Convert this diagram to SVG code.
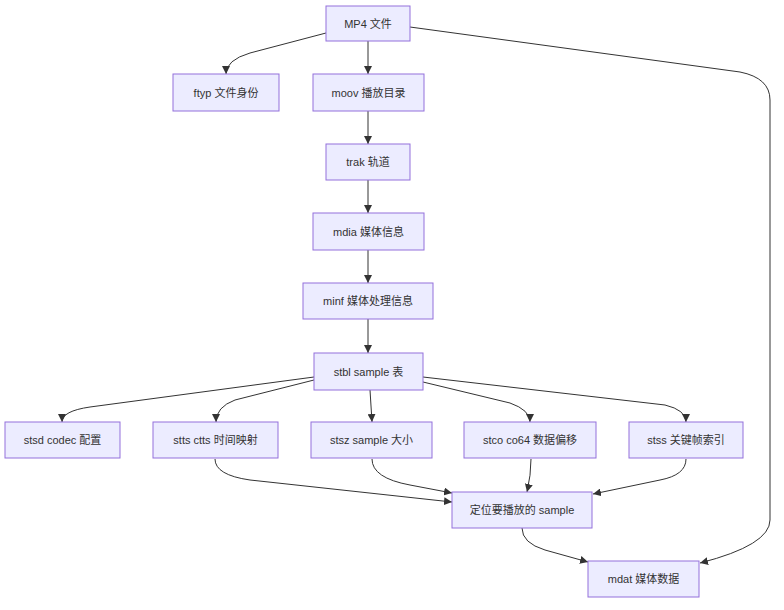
<svg xmlns="http://www.w3.org/2000/svg" width="784" height="610" viewBox="0 0 784 610">
<defs>
<marker id="arr" viewBox="0 0 10 10" refX="10" refY="5" markerWidth="8" markerHeight="8" markerUnits="userSpaceOnUse" orient="auto">
<path d="M0,0 L10,5 L0,10 z" fill="#333333"/>
</marker>
<style>
.node rect{fill:#ECECFF;stroke:#9370DB;stroke-width:1}
.node text{font-family:"Liberation Sans","Noto Sans CJK SC",sans-serif;font-size:11px;fill:#333333;text-anchor:middle;dominant-baseline:central}
.edges path{fill:none;stroke:#333333;stroke-width:1;marker-end:url(#arr)}
</style>
</defs>
<rect width="784" height="610" fill="#ffffff"/>
<g class="edges">
<path d="M326,33 L250,53 Q226,60 226,74"/>
<path d="M368,41 L368,74"/>
<path d="M410,27 L740,72 Q770,78 770,100 L770,520 Q770,545 700,563"/>
<path d="M368,111 L368,144"/>
<path d="M368,180 L368,213"/>
<path d="M368,250 L368,283"/>
<path d="M368,319 L368,353"/>
<path d="M314,377 L90,407 Q62,411 62,422"/>
<path d="M314,380 L235,400 Q216,407 216,422"/>
<path d="M370,390 L372,422"/>
<path d="M423,382 L510,403 Q530,410 530,422"/>
<path d="M423,377 L665,405 Q686,410 686,422"/>
<path d="M215,459 Q215,475 250,480 L452,502"/>
<path d="M372,459 Q372,478 410,485 L452,493"/>
<path d="M531,459 Q531,475 527,492"/>
<path d="M686,459 Q686,475 660,480 L593,494"/>
<path d="M522,528 Q522,543 545,550 L588,562"/>
</g>
<g id="mp4" class="node"><rect x="326" y="6" width="84" height="35"/><text x="368" y="23.5">MP4 文件</text></g>
<g id="ftyp" class="node"><rect x="173" y="74" width="106" height="37"/><text x="226" y="92.5">ftyp 文件身份</text></g>
<g id="moov" class="node"><rect x="313" y="74" width="111" height="37"/><text x="368.5" y="92.5">moov 播放目录</text></g>
<g id="trak" class="node"><rect x="326" y="144" width="84" height="36"/><text x="368" y="162">trak 轨道</text></g>
<g id="mdia" class="node"><rect x="313" y="213" width="111" height="37"/><text x="368.5" y="231.5">mdia 媒体信息</text></g>
<g id="minf" class="node"><rect x="303" y="283" width="130" height="36"/><text x="368" y="301">minf 媒体处理信息</text></g>
<g id="stbl" class="node"><rect x="314" y="353" width="109" height="37"/><text x="368.5" y="371.5">stbl sample 表</text></g>
<g id="stsd" class="node"><rect x="5" y="422" width="115" height="36"/><text x="62.5" y="440">stsd codec 配置</text></g>
<g id="stts" class="node"><rect x="153" y="422" width="125" height="36"/><text x="215.5" y="440">stts ctts 时间映射</text></g>
<g id="stsz" class="node"><rect x="311" y="422" width="121" height="36"/><text x="371.5" y="440">stsz sample 大小</text></g>
<g id="stco" class="node"><rect x="464" y="422" width="132" height="36"/><text x="530" y="440">stco co64 数据偏移</text></g>
<g id="stss" class="node"><rect x="629" y="422" width="114" height="36"/><text x="686" y="440">stss 关键帧索引</text></g>
<g id="locate" class="node"><rect x="452" y="492" width="140" height="36"/><text x="522" y="510">定位要播放的 sample</text></g>
<g id="mdat" class="node"><rect x="588" y="561" width="111" height="36"/><text x="643.5" y="579">mdat 媒体数据</text></g>
</svg>
